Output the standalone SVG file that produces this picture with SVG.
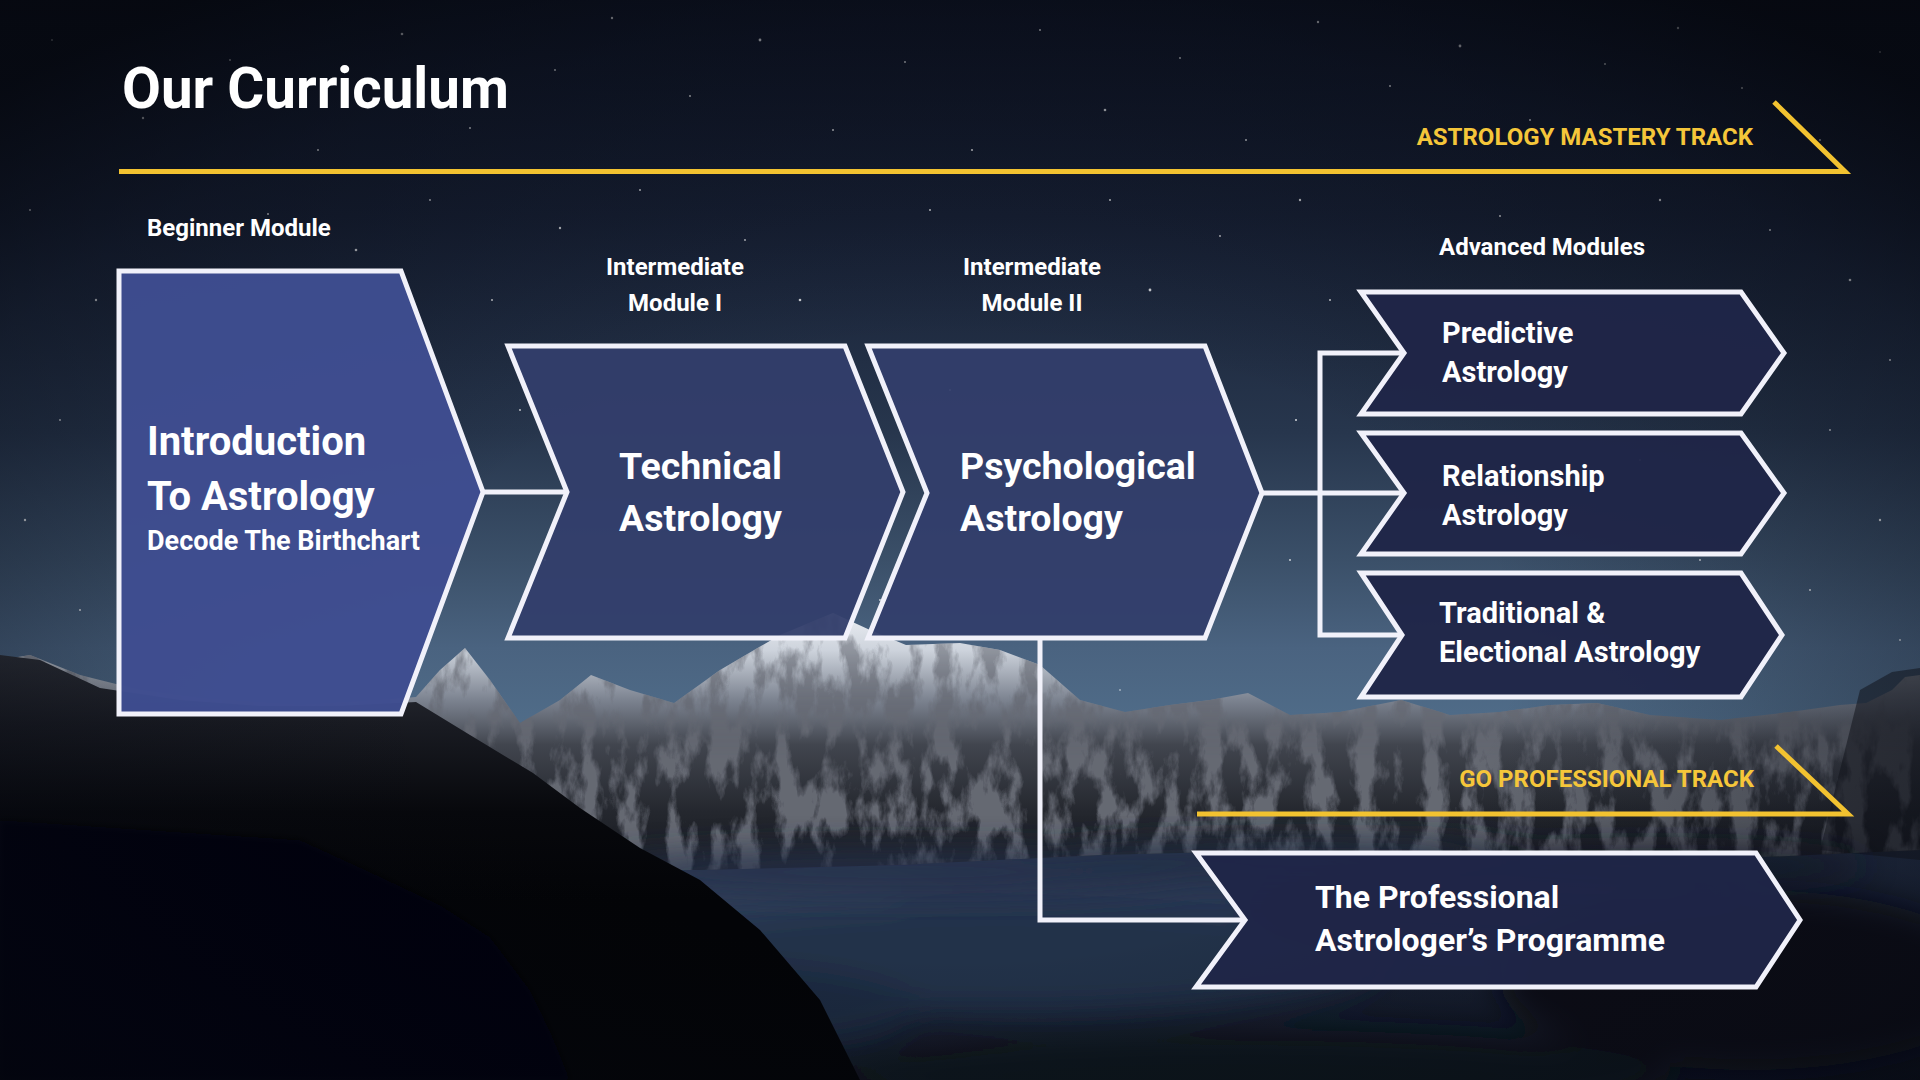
<svg xmlns="http://www.w3.org/2000/svg" width="1920" height="1080" viewBox="0 0 1920 1080">
<defs>
<linearGradient id="sky" x1="0" y1="0" x2="0" y2="1">
<stop offset="0" stop-color="#0E1424"/>
<stop offset="0.2" stop-color="#172034"/>
<stop offset="0.4" stop-color="#27364D"/>
<stop offset="0.52" stop-color="#3B5069"/>
<stop offset="0.6" stop-color="#4A6380"/>
<stop offset="0.7" stop-color="#52708C"/>
<stop offset="1" stop-color="#3A4A62"/>
</linearGradient>
<radialGradient id="vig" cx="0.5" cy="0.6" r="0.72">
<stop offset="0.4" stop-color="#060912" stop-opacity="0"/>
<stop offset="0.8" stop-color="#060912" stop-opacity="0.45"/>
<stop offset="1" stop-color="#04060C" stop-opacity="0.8"/>
</radialGradient>
<linearGradient id="snow" gradientUnits="userSpaceOnUse" x1="0" y1="610" x2="0" y2="880">
<stop offset="0" stop-color="#EEF1F5"/>
<stop offset="0.15" stop-color="#CDD3DC"/>
<stop offset="0.33" stop-color="#7D8491"/>
<stop offset="0.5" stop-color="#41454E"/>
<stop offset="0.75" stop-color="#24272E"/>
<stop offset="1" stop-color="#15181E"/>
</linearGradient>
<linearGradient id="rockmask" gradientUnits="userSpaceOnUse" x1="0" y1="610" x2="0" y2="760">
<stop offset="0" stop-color="#FFFFFF" stop-opacity="0.45"/>
<stop offset="1" stop-color="#FFFFFF" stop-opacity="1"/>
</linearGradient>
<linearGradient id="darkmtn" gradientUnits="userSpaceOnUse" x1="0" y1="650" x2="0" y2="900">
<stop offset="0" stop-color="#2E3139"/>
<stop offset="0.3" stop-color="#191B22"/>
<stop offset="0.65" stop-color="#07080C"/>
<stop offset="1" stop-color="#030407"/>
</linearGradient>
<linearGradient id="cloudbase" gradientUnits="userSpaceOnUse" x1="0" y1="840" x2="0" y2="1080">
<stop offset="0" stop-color="#26324A"/>
<stop offset="0.5" stop-color="#1A2336"/>
<stop offset="1" stop-color="#0E1320"/>
</linearGradient>
<filter id="rockonly" x="0" y="0" width="1" height="1">
<feTurbulence type="fractalNoise" baseFrequency="0.045 0.018" numOctaves="5" seed="11" result="n"/>
<feColorMatrix in="n" type="matrix" values="0 0 0 0 0.13  0 0 0 0 0.14  0 0 0 0 0.17  -5 0 0 0 2.8" result="d"/>
<feComposite in="d" in2="SourceGraphic" operator="in"/>
</filter>
<filter id="blur12" x="-20%" y="-50%" width="140%" height="200%"><feGaussianBlur stdDeviation="16"/></filter>
<filter id="blur3"><feGaussianBlur stdDeviation="3"/></filter>
<style>
.node{stroke:#F1F1FA;stroke-width:5;stroke-linejoin:miter}
.b1{fill:#3F4D91;fill-opacity:0.97}
.b2{fill:#333E6C;fill-opacity:0.95}
.b3{fill:#1F2548;fill-opacity:0.96}
.conn{fill:none;stroke:#F1F1FA;stroke-width:5;stroke-linejoin:miter}
.track{fill:none;stroke:#F2C230;stroke-width:5;stroke-linejoin:miter}
text{font-family:Roboto,"Liberation Sans",sans-serif;font-weight:700;fill:#FFFFFF}
.title{font-size:56.5px}
.lab{font-size:24px}
.trk{font-size:24px;fill:#F5C63A;text-anchor:end}
.big{font-size:40px}
.mid{font-size:37.5px}
.sub{font-size:27px}
.adv{font-size:29px}
.pro{font-size:32px}
.star{fill:#FFFFFF}
</style>
</defs>

<g id="background">
<rect width="1920" height="1080" fill="url(#sky)"/>
<g class="stars" opacity="0.8">
<circle class="star" cx="52" cy="40" r="1"/><circle class="star" cx="143" cy="118" r="1.2"/><circle class="star" cx="230" cy="60" r="0.9"/><circle class="star" cx="318" cy="150" r="1"/><circle class="star" cx="402" cy="34" r="1.3"/><circle class="star" cx="470" cy="128" r="1"/><circle class="star" cx="555" cy="70" r="0.9"/><circle class="star" cx="612" cy="18" r="1.2"/><circle class="star" cx="690" cy="96" r="1"/><circle class="star" cx="760" cy="40" r="1.4"/><circle class="star" cx="833" cy="130" r="1"/><circle class="star" cx="905" cy="62" r="0.9"/><circle class="star" cx="972" cy="150" r="1.1"/><circle class="star" cx="1040" cy="30" r="1"/><circle class="star" cx="1105" cy="110" r="1.3"/><circle class="star" cx="1180" cy="58" r="0.9"/><circle class="star" cx="1246" cy="140" r="1"/><circle class="star" cx="1318" cy="22" r="1.2"/><circle class="star" cx="1390" cy="86" r="1"/><circle class="star" cx="1460" cy="46" r="1.4"/><circle class="star" cx="1530" cy="120" r="1"/><circle class="star" cx="1605" cy="64" r="0.9"/><circle class="star" cx="1678" cy="28" r="1.2"/><circle class="star" cx="1742" cy="88" r="1"/><circle class="star" cx="1820" cy="140" r="1.1"/><circle class="star" cx="1880" cy="52" r="1"/>
<circle class="star" cx="30" cy="210" r="1"/><circle class="star" cx="96" cy="300" r="1.2"/><circle class="star" cx="60" cy="420" r="0.9"/><circle class="star" cx="25" cy="520" r="1.2"/><circle class="star" cx="80" cy="610" r="1"/><circle class="star" cx="268" cy="214" r="1"/><circle class="star" cx="356" cy="250" r="1.3"/><circle class="star" cx="430" cy="200" r="0.9"/><circle class="star" cx="492" cy="300" r="1"/><circle class="star" cx="560" cy="228" r="1.2"/><circle class="star" cx="640" cy="190" r="1"/><circle class="star" cx="745" cy="240" r="0.9"/><circle class="star" cx="800" cy="300" r="1.3"/><circle class="star" cx="930" cy="210" r="1"/><circle class="star" cx="985" cy="270" r="1.1"/><circle class="star" cx="1110" cy="200" r="1"/><circle class="star" cx="1150" cy="290" r="1.4"/><circle class="star" cx="1220" cy="236" r="0.9"/><circle class="star" cx="1300" cy="200" r="1.2"/><circle class="star" cx="1330" cy="300" r="1"/><circle class="star" cx="1500" cy="216" r="1"/><circle class="star" cx="1580" cy="250" r="0.9"/><circle class="star" cx="1660" cy="200" r="1.2"/><circle class="star" cx="1770" cy="230" r="1"/><circle class="star" cx="1850" cy="280" r="1.3"/><circle class="star" cx="1890" cy="360" r="1"/><circle class="star" cx="1830" cy="430" r="0.9"/><circle class="star" cx="1880" cy="520" r="1.2"/><circle class="star" cx="1810" cy="590" r="1"/><circle class="star" cx="1900" cy="640" r="0.9"/>
<circle class="star" cx="950" cy="390" r="1"/><circle class="star" cx="1296" cy="420" r="1"/><circle class="star" cx="1290" cy="560" r="0.9"/><circle class="star" cx="1350" cy="720" r="1"/><circle class="star" cx="1120" cy="690" r="0.8"/><circle class="star" cx="520" cy="410" r="0.9"/><circle class="star" cx="545" cy="560" r="1"/><circle class="star" cx="880" cy="600" r="0.9"/><circle class="star" cx="1640" cy="460" r="1"/><circle class="star" cx="1700" cy="560" r="0.9"/>
</g>
<rect x="0" y="820" width="1920" height="260" fill="url(#cloudbase)"/>
<g filter="url(#blur12)">
<ellipse cx="820" cy="900" rx="300" ry="45" fill="#2E3C58"/>
<ellipse cx="1150" cy="890" rx="260" ry="40" fill="#2C3954"/>
<ellipse cx="1000" cy="960" rx="380" ry="55" fill="#243049"/>
<ellipse cx="1500" cy="900" rx="260" ry="40" fill="#1E283D"/>
<ellipse cx="700" cy="1010" rx="220" ry="45" fill="#1F2940"/>
<ellipse cx="1750" cy="980" rx="250" ry="90" fill="#0C1019"/>
<ellipse cx="1250" cy="1075" rx="420" ry="45" fill="#0E121C"/>
</g>
<polygon fill="url(#snow)" points="0,660 30,655 80,675 140,690 200,698 300,705 380,700 416,697 440,670 465,648 490,680 520,723 560,700 591,675 630,690 674,703 720,670 780,635 833,613 870,630 906,645 960,643 1000,650 1040,665 1080,700 1125,712 1170,705 1210,700 1248,693 1290,715 1340,712 1401,700 1450,715 1500,712 1550,705 1597,703 1650,715 1720,720 1790,712 1840,705 1866,703 1892,690 1905,677 1920,675 1920,850 1700,860 1500,855 1300,850 1100,855 900,865 700,870 500,870 0,870"/>
<polygon fill="url(#rockmask)" filter="url(#rockonly)" points="0,660 30,655 80,675 140,690 200,698 300,705 380,700 416,697 440,670 465,648 490,680 520,723 560,700 591,675 630,690 674,703 720,670 780,635 833,613 870,630 906,645 960,643 1000,650 1040,665 1080,700 1125,712 1170,705 1210,700 1248,693 1290,715 1340,712 1401,700 1450,715 1500,712 1550,705 1597,703 1650,715 1720,720 1790,712 1840,705 1866,703 1892,690 1905,677 1920,675 1920,850 1700,860 1500,855 1300,850 1100,855 900,865 700,870 500,870 0,870"/>
<polygon fill="#15181F" opacity="0.55" points="1860,690 1892,672 1920,668 1920,860 1820,850"/>
<g filter="url(#blur12)" opacity="0.85">
<ellipse cx="900" cy="872" rx="320" ry="22" fill="#27334B"/>
<ellipse cx="1300" cy="862" rx="280" ry="20" fill="#222D44"/>
<ellipse cx="1650" cy="866" rx="220" ry="18" fill="#161D2C"/>
</g>
<polygon fill="url(#darkmtn)" points="0,655 40,660 100,688 180,700 260,706 340,706 416,702 470,735 533,773 580,808 640,848 700,880 760,930 820,1000 860,1080 0,1080"/>
<polygon fill="#030408" filter="url(#blur3)" points="0,820 300,840 370,872 440,905 490,937 530,990 551,1033 570,1080 0,1080"/>
<rect width="1920" height="1080" fill="url(#vig)"/>
</g>

<g id="title">
<text class="title" x="122" y="108">Our Curriculum</text>
</g>

<g id="track-mastery">
<polyline class="track" points="119,171.5 1845,171.5 1774,102"/>
<text class="trk" x="1753" y="145">ASTROLOGY MASTERY TRACK</text>
</g>

<g id="track-professional">
<polyline class="track" points="1197,814 1848,814 1776,746"/>
<text class="trk" x="1754" y="787">GO PROFESSIONAL TRACK</text>
</g>

<g id="stage-labels">
<text class="lab" x="147" y="236">Beginner Module</text>
<text class="lab" x="675" y="275" text-anchor="middle">Intermediate</text>
<text class="lab" x="675" y="311" text-anchor="middle">Module I</text>
<text class="lab" x="1032" y="275" text-anchor="middle">Intermediate</text>
<text class="lab" x="1032" y="311" text-anchor="middle">Module II</text>
<text class="lab" x="1439" y="255">Advanced Modules</text>
</g>

<g id="connectors">
<line class="conn" x1="483" y1="492" x2="567" y2="492"/>
<line class="conn" x1="1262" y1="493" x2="1406" y2="493"/>
<polyline class="conn" points="1406,353 1320,353 1320,635 1402,635"/>
<polyline class="conn" points="1040,638 1040,920 1245,920"/>
</g>

<g id="node-intro">
<path class="node b1" d="M119,271 L401,271 L483,492 L401,714 L119,714 Z"/>
<text class="big" x="147" y="455">Introduction</text>
<text class="big" x="147" y="510">To Astrology</text>
<text class="sub" x="147" y="550">Decode The Birthchart</text>
</g>

<g id="node-technical">
<path class="node b2" d="M508,346 L845,346 L903,492 L845,638 L508,638 L567,492 Z"/>
<text class="mid" x="619" y="479">Technical</text>
<text class="mid" x="619" y="531">Astrology</text>
</g>

<g id="node-psychological">
<path class="node b2" d="M868,346 L1205,346 L1262,493 L1205,638 L868,638 L927,493 Z"/>
<text class="mid" x="960" y="479">Psychological</text>
<text class="mid" x="960" y="531">Astrology</text>
</g>

<g id="node-predictive">
<path class="node b3" d="M1361,292 L1741,292 L1784,353 L1741,414 L1361,414 L1404,353 Z"/>
<text class="adv" x="1442" y="343">Predictive</text>
<text class="adv" x="1442" y="382">Astrology</text>
</g>

<g id="node-relationship">
<path class="node b3" d="M1361,433 L1741,433 L1784,493 L1741,554 L1361,554 L1404,493 Z"/>
<text class="adv" x="1442" y="486">Relationship</text>
<text class="adv" x="1442" y="525">Astrology</text>
</g>

<g id="node-traditional">
<path class="node b3" d="M1361,573 L1741,573 L1782,635 L1741,697 L1361,697 L1402,635 Z"/>
<text class="adv" x="1439" y="623">Traditional &amp;</text>
<text class="adv" x="1439" y="662">Electional Astrology</text>
</g>

<g id="node-professional">
<path class="node b3" d="M1196,853 L1756,853 L1800,920 L1756,987 L1196,987 L1245,920 Z"/>
<text class="pro" x="1315" y="908">The Professional</text>
<text class="pro" x="1315" y="951">Astrologer’s Programme</text>
</g>
</svg>
